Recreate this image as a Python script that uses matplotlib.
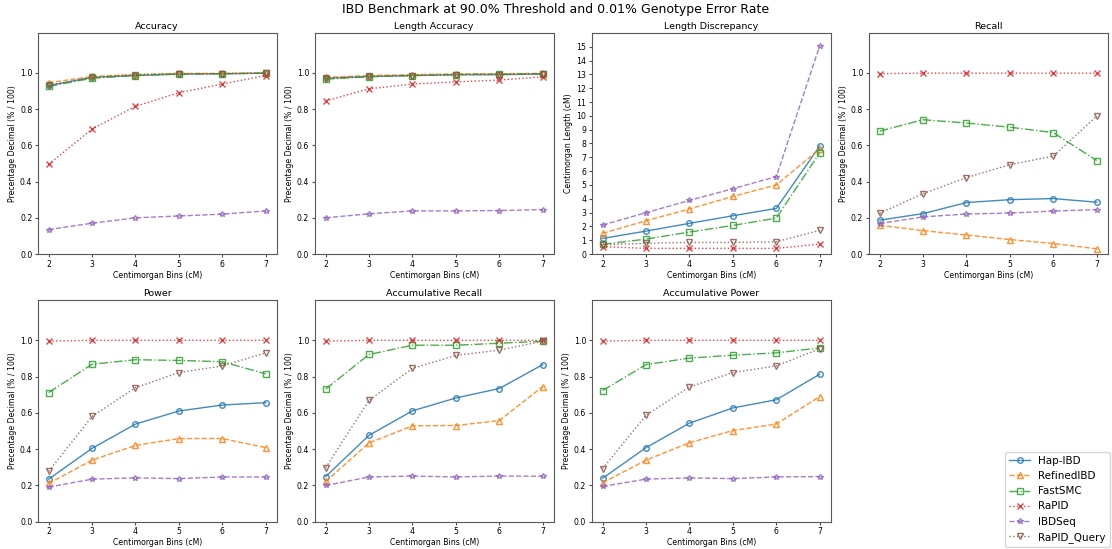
import matplotlib
matplotlib.use("Agg")
import matplotlib.pyplot as plt

# centimorgan bins
bins = [2, 3, 4, 5, 6, 7]

tools = ["Hap-IBD", "RefinedIBD", "FastSMC", "RaPID", "IBDSeq", "RaPID_Query"]

# values per metric, one list per tool (same order as tools)
accuracy = [
    [0.930, 0.975, 0.985, 0.993, 0.995, 0.998],
    [0.945, 0.980, 0.990, 0.997, 0.997, 0.999],
    [0.925, 0.970, 0.985, 0.993, 0.995, 0.998],
    [0.495, 0.690, 0.815, 0.890, 0.938, 0.985],
    [0.135, 0.170, 0.200, 0.210, 0.220, 0.238],
    [0.930, 0.975, 0.990, 0.995, 0.995, 0.998],
]
length_accuracy = [
    [0.970, 0.980, 0.985, 0.990, 0.990, 0.993],
    [0.975, 0.985, 0.990, 0.994, 0.995, 0.997],
    [0.965, 0.978, 0.985, 0.990, 0.992, 0.995],
    [0.845, 0.912, 0.938, 0.950, 0.960, 0.978],
    [0.200, 0.222, 0.238, 0.238, 0.240, 0.245],
    [0.970, 0.980, 0.985, 0.990, 0.990, 0.995],
]
length_discrepancy = [
    [1.13, 1.66, 2.22, 2.77, 3.30, 7.81],
    [1.50, 2.41, 3.26, 4.17, 5.00, 7.60],
    [0.70, 1.08, 1.59, 2.07, 2.60, 7.33],
    [0.53, 0.41, 0.41, 0.41, 0.41, 0.72],
    [2.10, 2.99, 3.88, 4.73, 5.60, 15.07],
    [0.68, 0.77, 0.84, 0.84, 0.89, 1.71],
]
recall = [
    [0.187, 0.223, 0.284, 0.300, 0.306, 0.286],
    [0.159, 0.129, 0.105, 0.080, 0.058, 0.029],
    [0.678, 0.741, 0.723, 0.700, 0.670, 0.516],
    [0.995, 0.998, 0.998, 0.998, 0.998, 0.998],
    [0.168, 0.205, 0.221, 0.226, 0.237, 0.245],
    [0.225, 0.333, 0.422, 0.493, 0.540, 0.761],
]
power = [
    [0.234, 0.404, 0.538, 0.610, 0.643, 0.656],
    [0.210, 0.339, 0.420, 0.458, 0.458, 0.408],
    [0.712, 0.868, 0.893, 0.889, 0.882, 0.815],
    [0.996, 1.000, 1.000, 1.000, 1.000, 1.000],
    [0.190, 0.234, 0.241, 0.237, 0.246, 0.246],
    [0.277, 0.580, 0.739, 0.822, 0.859, 0.931],
]
acc_recall = [
    [0.248, 0.476, 0.611, 0.682, 0.734, 0.866],
    [0.221, 0.434, 0.528, 0.530, 0.557, 0.745],
    [0.731, 0.922, 0.973, 0.973, 0.984, 0.995],
    [0.996, 1.000, 1.000, 1.000, 1.000, 1.000],
    [0.199, 0.246, 0.251, 0.246, 0.251, 0.250],
    [0.297, 0.669, 0.845, 0.917, 0.946, 0.995],
]
acc_power = [
    [0.239, 0.408, 0.543, 0.627, 0.672, 0.813],
    [0.214, 0.339, 0.435, 0.502, 0.538, 0.690],
    [0.723, 0.866, 0.902, 0.918, 0.931, 0.958],
    [0.996, 1.000, 1.000, 1.000, 1.000, 1.000],
    [0.194, 0.234, 0.241, 0.237, 0.246, 0.248],
    [0.292, 0.587, 0.743, 0.822, 0.859, 0.953],
]

panels = [
    ("Accuracy", accuracy),
    ("Length Accuracy", length_accuracy),
    ("Length Discrepancy", length_discrepancy),
    ("Recall", recall),
    ("Power", power),
    ("Accumulative Recall", acc_recall),
    ("Accumulative Power", acc_power),
]

styles = [
    ("tab:blue", "o", "-"),
    ("tab:orange", "^", "--"),
    ("tab:green", "s", "-."),
    ("tab:red", "x", ":"),
    ("tab:purple", "*", "--"),
    ("tab:brown", "v", ":"),
]


def draw_panel(ax, title, values):
    """ Draws one metric panel with every tool """
    for name, vals, (color, marker, ls) in zip(tools, values, styles):
        ax.plot(bins, vals, color=color, marker=marker, linestyle=ls,
                linewidth=1.0, markersize=4, markerfacecolor="none",
                alpha=0.85, label=name)
    ax.set_title(title, fontsize=6.8, pad=3)
    ax.set_xticks(bins)
    ax.set_xlabel("Centimorgan Bins (cM)", fontsize=5.6, labelpad=1.5)
    if title == "Length Discrepancy":
        ax.set_ylim(0, 16)
        ax.set_yticks(range(0, 16))
        ax.set_ylabel("Centimorgan Length (cM)", fontsize=5.6, labelpad=2)
    else:
        ax.set_ylim(0, 1.22)
        ax.set_yticks([0.0, 0.2, 0.4, 0.6, 0.8, 1.0])
        ax.set_ylabel("Precentage Decimal (% / 100)", fontsize=5.6, labelpad=2)
    ax.tick_params(labelsize=5.6, length=2.5, pad=1.5, color="0.3")
    for spine in ax.spines.values():
        spine.set_color("0.35")


def main():
    fig, axes = plt.subplots(2, 4, figsize=(11.12, 5.49), dpi=100)
    flat = axes.flatten()
    for ax, (title, values) in zip(flat, panels):
        draw_panel(ax, title, values)
    flat[-1].axis("off")

    fig.suptitle("IBD Benchmark at 90.0% Threshold and 0.01% Genotype Error Rate",
                 fontsize=9, y=0.995)
    handles, labels = flat[0].get_legend_handles_labels()
    fig.legend(handles, labels, loc="lower right", bbox_to_anchor=(1.0, 0.0),
               fontsize=7.5, borderaxespad=0.2)
    plt.subplots_adjust(left=0.034, right=0.996, top=0.94, bottom=0.05,
                        wspace=0.16, hspace=0.21)
    fig.savefig("out.png", dpi=100)


if __name__ == '__main__':
    main()
